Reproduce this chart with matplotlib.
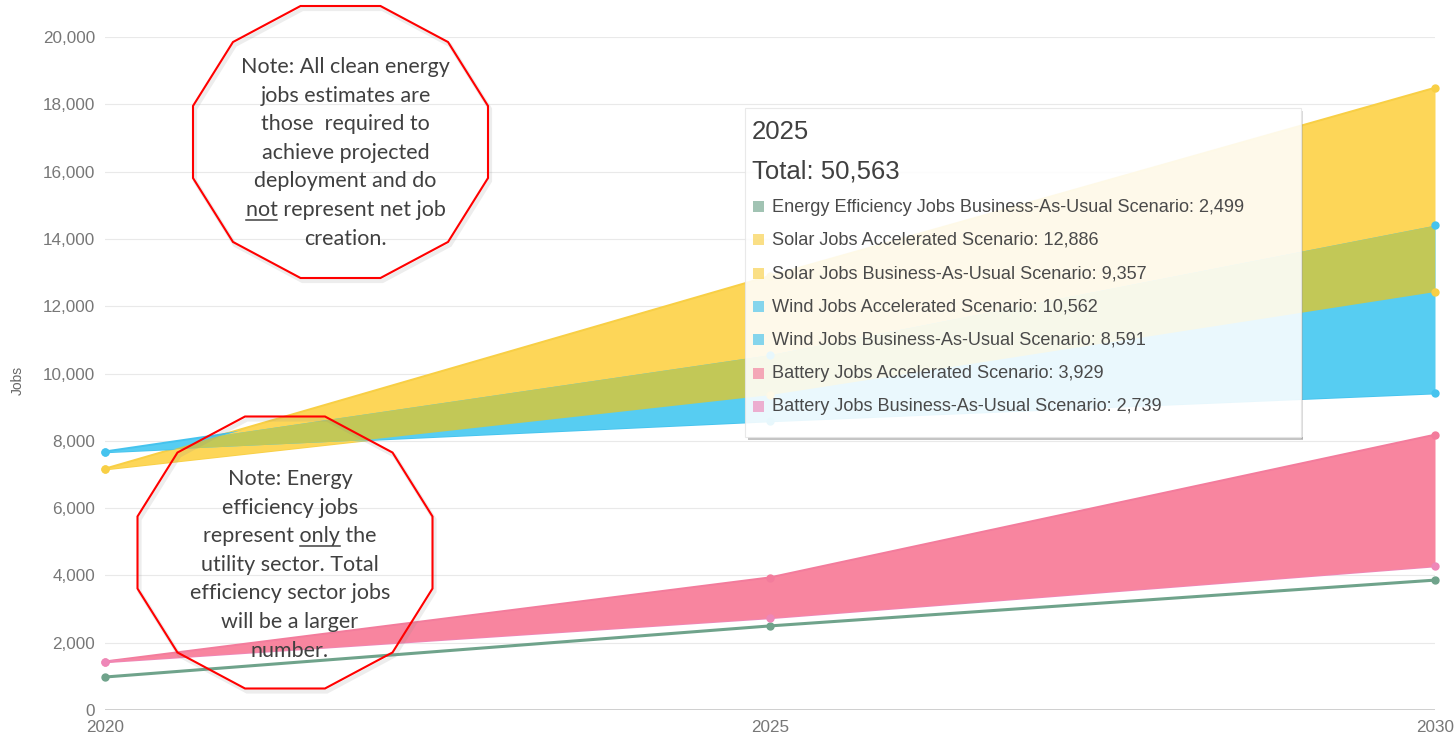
import matplotlib.pyplot as plt
from matplotlib.patches import Polygon, Rectangle

# data (2025 values from the tooltip)
years = [2020, 2025, 2030]
ee_bau = [980, 2499, 3860]
solar_acc = [7160, 12886, 18480]
solar_bau = [7160, 9357, 12420]
wind_acc = [7670, 10562, 14410]
wind_bau = [7670, 8591, 9420]
battery_acc = [1430, 3929, 8170]
battery_bau = [1430, 2739, 4280]

series_names = [
    'Energy Efficiency Jobs Business-As-Usual Scenario',
    'Solar Jobs Accelerated Scenario',
    'Solar Jobs Business-As-Usual Scenario',
    'Wind Jobs Accelerated Scenario',
    'Wind Jobs Business-As-Usual Scenario',
    'Battery Jobs Accelerated Scenario',
    'Battery Jobs Business-As-Usual Scenario',
]
series_values = [ee_bau, solar_acc, solar_bau, wind_acc, wind_bau, battery_acc, battery_bau]
y_ticks = list(range(0, 20001, 2000))

note_top = ['Note: All clean energy', 'jobs estimates are', 'those  required to',
            'achieve projected', 'deployment and do', 'not represent net job', 'creation.']
note_bottom = ['Note: Energy', 'efficiency jobs', 'represent only the', 'utility sector. Total',
               'efficiency sector jobs', 'will be a larger', 'number.']

YELLOW = '#fdd658'
CYAN = '#57cdf2'
OLIVE = '#c2c857'
PINK = '#f8859f'
GREEN = '#6fa38b'
line_colors = [GREEN, '#f8cf45', '#f8cf45', '#45c3ee', '#45c3ee', '#f37c9c', '#ee87b8']
W, H = 1455, 736

fig = plt.figure(figsize=(W / 100, H / 100), dpi=100)
ax = fig.add_axes([105 / W, 26 / H, 1330 / W, 673 / H])
ax.set_xlim(2020, 2030)
ax.set_ylim(0, 20000)
for s in ax.spines.values():
    s.set_visible(False)
ax.set_yticks(y_ticks)
ax.set_yticklabels([f'{v:,}' for v in y_ticks])
ax.set_xticks(years)
ax.tick_params(length=0, labelsize=12.3, labelcolor='#777777')
ax.tick_params(axis='y', pad=7)
ax.tick_params(axis='x', pad=7)
for lab in ax.get_xticklabels() + ax.get_yticklabels():
    lab.set_family('Liberation Sans')
ax.grid(axis='y', color='#e9e9e9', lw=0.8)
ax.set_axisbelow(True)
ax.axhline(0, color='#c8c8c8', lw=1.2, zorder=1)

# range bands
for vals, c in zip(series_values[1:], line_colors[1:]):
    ax.plot(years, vals, color=c, lw=2, zorder=1.5, solid_capstyle='round')
solar_band = ax.fill_between(years, solar_bau, solar_acc, color=YELLOW, lw=0, zorder=2)
ax.fill_between(years, wind_bau, wind_acc, color=CYAN, lw=0, zorder=2)
overlap = ax.fill_between(years, wind_bau, wind_acc, color=OLIVE, lw=0, zorder=2.1)
overlap.set_clip_path(solar_band.get_paths()[0], ax.transData)
ax.fill_between(years, battery_bau, battery_acc, color=PINK, lw=0, zorder=2)

ax.plot(years, ee_bau, color=GREEN, lw=2.2, zorder=3)
for vals, c in zip(series_values, line_colors):
    ax.plot(years, vals, color=c, lw=0, marker='o', ms=5, clip_on=False, zorder=3.5)

fig.text(18 / W, 1 - 380 / H, 'Jobs', rotation=90, ha='center', va='center',
         fontsize=10, color='#666666', family='Liberation Sans')

# overlay in pixel coordinates
ov = fig.add_axes([0, 0, 1, 1], zorder=5)
ov.set_xlim(0, W)
ov.set_ylim(H, 0)
ov.axis('off')
ov.patch.set_visible(False)
r = fig.canvas.get_renderer()

# tooltip
tx0, ty0, tx1, ty1 = 745, 108, 1301, 437
ov.add_patch(Rectangle((tx0 + 3, ty1), tx1 - tx0 - 1, 2.5, color='#8a8a8a', alpha=0.5, lw=0))
ov.add_patch(Rectangle((tx1, ty0 + 3), 1.5, ty1 - ty0 - 1, color='#8a8a8a', alpha=0.3, lw=0))
ov.add_patch(Rectangle((tx0, ty0), tx1 - tx0, ty1 - ty0, facecolor='white', alpha=0.88,
                       edgecolor='#e6e6e6', lw=0.8))
ov.text(752, 132, str(years[1]), fontsize=18.5, color='#404040', va='center', family='Liberation Sans')
total = sum(v[1] for v in series_values)
ov.text(752, 172, f'Total: {total:,}', fontsize=18.5, color='#404040', va='center',
        family='Liberation Sans')
for i, (name, vals, c) in enumerate(zip(series_names, series_values, line_colors)):
    y = 207 + i * 33.3
    ov.add_patch(Rectangle((753, y - 6), 11, 11, color=c, alpha=0.65, lw=0))
    ov.text(772, y, f'{name}: {vals[1]:,}', fontsize=13.1, color='#4a4a4a', va='center',
            family='Liberation Sans')

# note shapes
shape = [(-0.271, -1), (0.271, -1), (0.729, -0.735), (1, -0.265), (1, 0.265), (0.729, 0.735),
         (0.271, 1), (-0.271, 1), (-0.729, 0.735), (-1, 0.265), (-1, -0.265), (-0.729, -0.735)]
note_font = dict(fontsize=15.5, color='#404040', family='Lato')


def text_width(s):
    t = ov.text(0, 0, s, **note_font)
    w = t.get_window_extent(r).width
    t.remove()
    return w


def draw_note(cx, cy, lines, first_base, underline_word):
    pts = [(cx + 147.5 * a, cy + 136 * b) for a, b in shape]
    ov.add_patch(Polygon([(x + 2, y + 3) for x, y in pts], closed=True, fill=False,
                         edgecolor='#888888', alpha=0.15, lw=3))
    ov.add_patch(Polygon(pts, closed=True, fill=False, edgecolor='#ff0000', lw=1.5))
    tcx = cx + 5
    for i, line in enumerate(lines):
        base = first_base + i * 28.6
        ov.text(tcx, base, line, ha='center', va='baseline', **note_font)
        padded = ' ' + line + ' '
        key = ' ' + underline_word + ' '
        if key in padded:
            left = tcx - text_width(line) / 2
            idx = padded.index(key)
            x1 = left + text_width(line[:idx + len(underline_word)])
            x0 = x1 - text_width(underline_word)
            ov.plot([x0, x1], [base + 3.5, base + 3.5], color='#404040', lw=1.1)


draw_note(340.5, 142, note_top, 73, 'not')
draw_note(285, 552.5, note_bottom, 485, 'only')

fig.savefig('out.png', dpi=100)
